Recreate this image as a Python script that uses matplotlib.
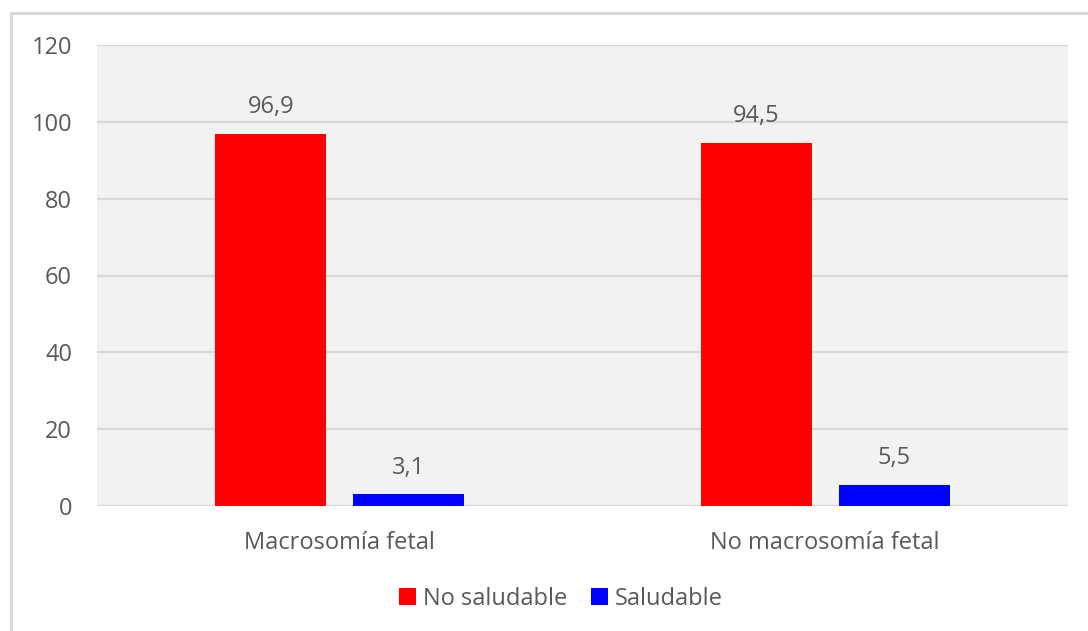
import matplotlib.pyplot as plt
from matplotlib.lines import Line2D
from matplotlib.patches import Patch
import numpy as np

categories = ["Macrosomía fetal", "No macrosomía fetal"]
series_names = ["No saludable", "Saludable"]
no_saludable = [96.9, 94.5]
saludable = [3.1, 5.5]
value_labels = [["96,9", "94,5"], ["3,1", "5,5"]]
yticks = [0, 20, 40, 60, 80, 100, 120]

text_color = "#595959"
grid_color = "#d9d9d9"
fs = 17
plt.rcParams["font.family"] = ["Open Sans", "DejaVu Sans"]

fig = plt.figure(figsize=(10.88, 6.31), dpi=100)
ax = fig.add_axes([97 / 1088, 1 - 506 / 631, (1068 - 97) / 1088, (506 - 45) / 631])
ax.set_facecolor("#f2f2f2")

x = np.arange(len(categories))
width = 0.229
offset = 0.1421
bars1 = ax.bar(x - offset, no_saludable, width, color="#ff0000", zorder=3)
bars2 = ax.bar(x + offset, saludable, width, color="#0000ff", zorder=3)

for bars, labels in zip([bars1, bars2], value_labels):
    for b, lab in zip(bars, labels):
        ax.annotate(lab, (b.get_x() + b.get_width() / 2, b.get_height()),
                    xytext=(0, 10.5), textcoords="offset points",
                    ha="center", va="bottom", fontsize=fs, color=text_color)

ax.set_xlim(-0.5, 1.5)
ax.set_ylim(0, 120)
ax.set_yticks(yticks)
ax.set_yticklabels([str(t) for t in yticks])
ax.set_xticks(x)
ax.set_xticklabels(categories)
ax.tick_params(axis="both", length=0, labelsize=fs, labelcolor=text_color)
ax.tick_params(axis="y", pad=18)
ax.tick_params(axis="x", pad=18)
ax.grid(axis="y", color=grid_color, linewidth=1.6, zorder=0)
ax.set_axisbelow(True)
for s in ax.spines.values():
    s.set_visible(False)

handles = [Patch(facecolor="#ff0000"), Patch(facecolor="#0000ff")]
fig.legend(handles, series_names, loc="center", bbox_to_anchor=(561 / 1088, 1 - 599 / 631),
           ncol=2, frameon=False, fontsize=fs, labelcolor=text_color,
           handlelength=0.7, handleheight=0.7, handletextpad=0.3, columnspacing=1.0)

# light frame along top and left edges
fig.add_artist(Line2D([11 / 1088, 1.0], [1 - 13 / 631, 1 - 13 / 631], color="#d9d9d9", linewidth=2.2))
fig.add_artist(Line2D([11 / 1088, 11 / 1088], [0, 1 - 13 / 631], color="#d9d9d9", linewidth=2.2))

fig.savefig("out.png", dpi=100, facecolor="white")
